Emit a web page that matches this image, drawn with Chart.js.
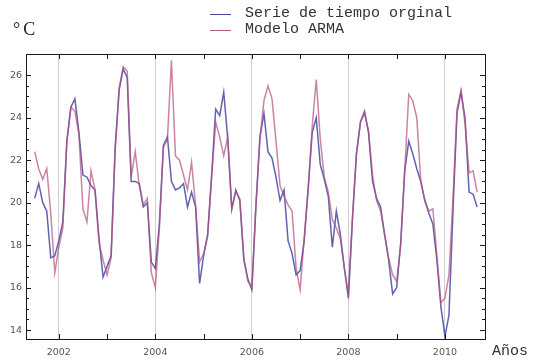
<!DOCTYPE html>
<html lang="es">
<head>
<meta charset="UTF-8">
<title>Serie de tiempo y modelo ARMA</title>
<style>
    body {
        margin: 0;
        background: #fff;
    }
    .wrap {
        position: relative;
        width: 533px;
        height: 364px;
        background: #fff;
    }
    canvas {
        position: absolute;
        left: 0;
        top: 0;
    }
    .unidad {
        position: absolute;
        left: 13px;
        top: 19px;
        font-family: 'Liberation Serif', serif;
        font-size: 18px;
        color: #222;
        letter-spacing: 3px;
    }
    .leyenda {
        position: absolute;
        left: 210px;
        top: 6px;
        font-family: 'Liberation Mono', monospace;
        font-size: 15px;
        color: #333;
        line-height: 16px;
    }
    .leyenda div {
        display: flex;
        align-items: center;
        height: 16px;
    }
    .leyenda span.linea {
        display: inline-block;
        width: 21px;
        height: 0;
        border-top: 1.5px solid;
        margin-right: 14px;
    }
    .eje-x {
        position: absolute;
        left: 492px;
        top: 343px;
        font-family: 'Liberation Mono', monospace;
        font-size: 15px;
        color: #333;
    }
</style>
</head>
<body>
<div class="wrap">
    <canvas id="grafica" width="533" height="364"></canvas>
    <div class="unidad">°C</div>
    <div class="leyenda">
        <div><span class="linea" style="border-color: rgb(70, 70, 160)"></span>Serie de tiempo orginal</div>
        <div><span class="linea" style="border-color: rgb(190, 90, 130)"></span>Modelo ARMA</div>
    </div>
    <div class="eje-x">Años</div>
</div>

<script src="https://cdn.jsdelivr.net/npm/chart.js"></script>
<script>
    // primer mes de la serie (julio 2001), datos mensuales
    const anioInicio = 2001;
    const mesInicio = 7;

    const serieOriginal = [
        20.2, 20.9, 20.0, 19.6, 17.4, 17.5,
        18.2, 19.1, 22.9, 24.5, 24.9, 23.3, 21.3, 21.2, 20.8, 20.6, 18.3, 16.5,
        17.0, 17.5, 22.6, 25.3, 26.3, 25.9, 21.0, 21.0, 20.9, 19.8, 20.0, 17.2,
        16.9, 19.0, 22.7, 23.1, 21.0, 20.6, 20.7, 20.9, 19.8, 20.5, 19.8, 16.2,
        17.5, 18.5, 21.3, 24.4, 24.1, 25.2, 23.0, 19.7, 20.6, 20.1, 17.3, 16.4,
        15.9, 19.8, 23.1, 24.2, 22.4, 22.1, 21.2, 20.1, 20.6, 18.2, 17.6, 16.6,
        16.8, 18.2, 20.7, 23.3, 24.0, 21.8, 21.1, 20.3, 17.9, 19.6, 18.5, 16.9,
        15.5, 19.2, 22.3, 23.8, 24.3, 23.3, 21.0, 20.2, 19.8, 18.5, 17.3, 15.7,
        16.0, 18.1, 21.5, 22.9, 22.3, 21.6, 21.0, 20.1, 19.5, 19.0, 17.3, 15.1,
        13.7, 14.7, 19.6, 24.2, 25.2, 24.0, 20.5, 20.4, 19.8
    ];

    const modeloARMA = [
        22.4, 21.6, 21.1, 21.6, 19.5, 16.7,
        17.9, 18.8, 22.9, 24.5, 24.3, 23.2, 19.7, 19.1, 21.5, 20.6, 18.1, 17.3,
        16.6, 17.4, 22.4, 25.4, 26.4, 26.2, 21.2, 22.4, 20.8, 19.9, 20.2, 16.7,
        16.0, 18.8, 22.6, 23.0, 26.7, 22.2, 22.0, 21.3, 20.6, 21.9, 19.9, 17.2,
        17.6, 18.4, 21.2, 23.8, 23.1, 22.2, 23.1, 19.7, 20.5, 20.2, 17.4, 16.3,
        16.0, 19.9, 23.0, 24.8, 25.5, 24.9, 22.9, 20.8, 20.3, 19.9, 19.6, 16.9,
        15.9, 18.3, 20.6, 23.6, 25.8, 23.0, 21.2, 20.5, 19.2, 18.8, 18.3, 16.9,
        15.7, 19.3, 22.3, 23.8, 24.2, 23.4, 21.3, 20.1, 19.6, 18.5, 17.4, 16.6,
        16.3, 18.0, 21.5, 25.1, 24.8, 24.0, 21.0, 20.1, 19.6, 19.7, 17.5, 15.3,
        15.5, 16.6, 20.2, 24.4, 25.3, 23.7, 21.4, 21.5, 20.5
    ];

    const aniosMarca = [2002, 2003, 2004, 2005, 2006, 2007, 2008, 2009, 2010];
    const aniosEtiqueta = [2002, 2004, 2006, 2008, 2010];
    const valoresY = [14, 16, 18, 20, 22, 24, 26];

    function aPuntos(valores) {
        return valores.map((v, i) => ({ x: anioInicio + (mesInicio - 1 + i) / 12, y: v }));
    }

    // marco negro con marcas hacia adentro en los cuatro lados
    const marco = {
        id: 'marco',
        afterDraw(chart) {
            const { ctx, chartArea: a, scales } = chart;
            ctx.save();
            ctx.strokeStyle = '#1a1a1a';
            ctx.lineWidth = 1;
            ctx.strokeRect(Math.round(a.left) + 0.5, Math.round(a.top) + 0.5,
                Math.round(a.right - a.left), Math.round(a.bottom - a.top));

            ctx.beginPath();
            aniosMarca.forEach(anio => {
                const px = Math.round(scales.x.getPixelForValue(anio)) + 0.5;
                ctx.moveTo(px, a.bottom);
                ctx.lineTo(px, a.bottom - 5);
                ctx.moveTo(px, a.top);
                ctx.lineTo(px, a.top + 5);
            });
            for (let v = 14; v <= 26.01; v += 0.5) {
                const py = Math.round(scales.y.getPixelForValue(v)) + 0.5;
                const largo = Number.isInteger(v / 2) ? 5 : 3;
                ctx.moveTo(a.left, py);
                ctx.lineTo(a.left + largo, py);
                ctx.moveTo(a.right, py);
                ctx.lineTo(a.right - largo, py);
            }
            ctx.stroke();
            ctx.restore();
        }
    };

    new Chart(document.getElementById('grafica'), {
        type: 'line',
        data: {
            datasets: [
                {
                    label: 'Serie de tiempo orginal',
                    data: aPuntos(serieOriginal),
                    borderColor: 'rgba(70, 70, 165, 0.85)',
                    borderWidth: 1.5,
                    pointRadius: 0,
                    tension: 0,
                    order: 2
                },
                {
                    label: 'Modelo ARMA',
                    data: aPuntos(modeloARMA),
                    borderColor: 'rgba(180, 80, 125, 0.7)',
                    borderWidth: 1.5,
                    pointRadius: 0,
                    tension: 0,
                    order: 1
                }
            ]
        },
        options: {
            responsive: false,
            animation: false,
            devicePixelRatio: 1,
            layout: { padding: { top: 54, right: 48, left: 0, bottom: 0 } },
            plugins: {
                legend: { display: false },
                tooltip: { enabled: false }
            },
            scales: {
                x: {
                    type: 'linear',
                    min: 2001.32,
                    max: 2010.83,
                    afterBuildTicks: s => { s.ticks = aniosMarca.map(v => ({ value: v })); },
                    afterFit: s => { s.height = 25; },
                    border: { display: false },
                    grid: {
                        drawTicks: false,
                        color: c => aniosEtiqueta.includes(c.tick && c.tick.value) ? '#cfcfcf' : 'rgba(0,0,0,0)',
                        lineWidth: 1
                    },
                    ticks: {
                        padding: 8,
                        maxRotation: 0,
                        autoSkip: false,
                        color: '#555',
                        font: { family: 'DejaVu Sans', size: 9.5 },
                        callback: v => aniosEtiqueta.includes(v) ? String(v) : ''
                    }
                },
                y: {
                    min: 13.58,
                    max: 27.0,
                    afterBuildTicks: s => { s.ticks = valoresY.map(v => ({ value: v })); },
                    afterFit: s => { s.width = 26; },
                    border: { display: false },
                    grid: { display: false, drawTicks: false },
                    ticks: {
                        padding: 4,
                        color: '#555',
                        font: { family: 'DejaVu Sans', size: 9.5 }
                    }
                }
            }
        },
        plugins: [marco]
    });
</script>
</body>
</html>
